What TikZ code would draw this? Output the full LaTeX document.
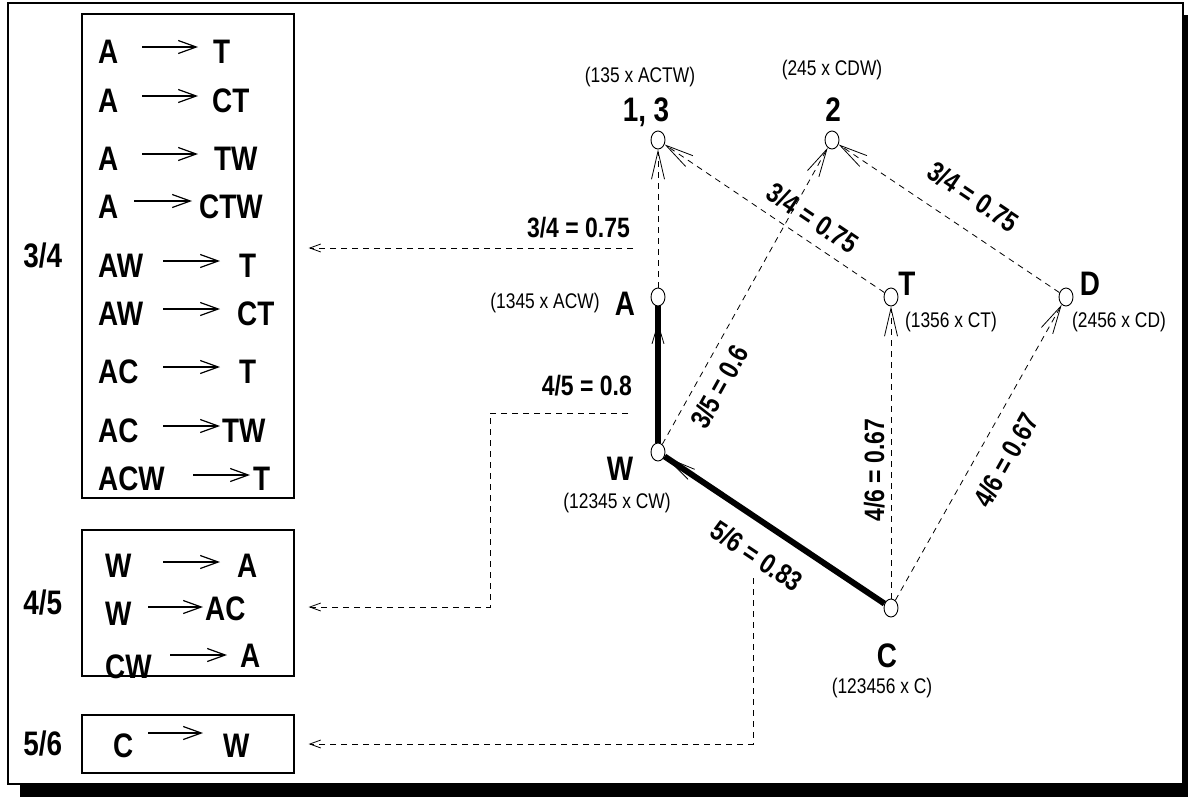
\documentclass[tikz,border=0pt]{standalone}
\usepackage{fontspec}
\setmainfont{Liberation Sans}[FakeStretch=0.82]
\usetikzlibrary{arrows.meta,positioning,calc,decorations.markings,shapes.geometric}
\tikzset{
  itemset/.style = {draw, line width=0.9pt, ellipse, inner sep=0pt,
                    minimum width=14pt, minimum height=18pt},
  rulebox/.style = {draw, line width=1.3pt, minimum width=212pt, inner sep=0pt},
  big/.style     = {font=\fontsize{34}{36}\selectfont\bfseries, inner sep=0pt},
  cnt/.style     = {font=\fontsize{21.2}{23}\selectfont, inner sep=0pt},
  conf/.style    = {font=\fontsize{28}{30}\selectfont\bfseries},
  dedge/.style   = {line width=0.8pt, dash pattern=on 6pt off 5pt,
                    -{Straight Barb[length=28pt,width=13pt]}},
  hedge/.style   = {line width=6pt},
  ptr/.style     = {line width=0.8pt, dash pattern=on 6pt off 5pt,
                    -{Straight Barb[length=11pt,width=8pt]}, shorten >=14pt},
  rarrow/.style  = {line width=1.2pt, -{Straight Barb[length=18pt,width=13pt]}},
  barbat/.style 2 args = {postaction={decorate}, decoration={markings,
                    mark=at position #1 with {\pgfsetlinewidth{0.8pt}%
                    \arrow{Straight Barb[length=#2,width=12pt]}}}},
}

\begin{document}
\begin{tikzpicture}[x=1pt, y=-1pt]
\useasboundingbox (0,0) rectangle (1188,796);
% ---- frame with shadow ----
\fill (20,15) rectangle (1200,810);
\draw[line width=2.5pt, fill=white] (8,3) rectangle (1183,784);

% ---- rule boxes ----
\foreach \n/\lx/\ly/\lhs/\ax/\bx/\ay/\rhs/\rx/\ry in {
    1/98/63/A/142/198/47/T/213/63,
    2/98/112/A/142/198/96/CT/212/112,
    3/98/170/A/142/198/154/TW/214/170,
    4/98/218/A/134/192/201/CTW/199/218,
    5/98/277/AW/163/220/261/T/239/277,
    6/98/325/AW/163/220/309/CT/237/325,
    7/98/383/AC/163/220/367/T/239/383,
    8/98/442/AC/163/220/426/TW/222/442,
    9/98/490/ACW/193/250/475/T/253/490,
    10/105/577/W/163/220/562/A/237/577,
    11/105/625/W/148/203/607/AC/205/620,
    12/105/678/CW/170/227/655/A/240/667,
    13/113/757/C/148/203/733/W/223/757}{
  \node[big, anchor=base west] (lhs\n) at (\lx,\ly) {\lhs};
  \node[big, anchor=base west] (rhs\n) at (\rx,\ry) {\rhs};
  \draw[rarrow] (\ax,\ay) -- (\bx,\ay);
}
\node[rulebox, minimum height=484pt] (box1) at (188,256) {};
\node[rulebox, minimum height=146pt] (box2) at (188,603) {};
\node[rulebox, minimum height=58pt] (box3) at (188,744) {};
\node[big, left=19pt of box1] (s34) {3/4};
\node[big, left=19pt of box2] (s45) {4/5};
\node[big, left=19pt of box3] (s56) {5/6};

% ---- itemset lattice ----
\node[itemset] (n13) at (658,140) {};
\node[itemset] (n2) at (832,140) {};
\node[itemset] (a) at (658,297) {};
\node[itemset] (t) at (891,297) {};
\node[itemset] (d) at (1066,297) {};
\node[itemset] (w) at (658,452) {};
\node[itemset] (c) at (891,608) {};

\node[big, anchor=base] (n13l) at (646,121) {1, 3};
\node[cnt, anchor=base] (n13c) at (640,82) {(135 x ACTW)};
\node[big, anchor=base] (n2l) at (833,121) {2};
\node[cnt, anchor=base] (n2c) at (832,75) {(245 x CDW)};
\node[big, anchor=base] (al) at (625,315) {A};
\node[cnt, anchor=base] (ac) at (545,308) {(1345 x ACW)};
\node[big, anchor=base] (tl) at (907,295) {T};
\node[cnt, anchor=base] (tc) at (951,327) {(1356 x CT)};
\node[big, anchor=base] (dl) at (1090,295) {D};
\node[cnt, anchor=base] (dc) at (1119,327) {(2456 x CD)};
\node[big, anchor=base] (wl) at (620,480) {W};
\node[cnt, anchor=base] (wc) at (617,508) {(12345 x CW)};
\node[big, anchor=base] (cl) at (887,667) {C};
\node[cnt, anchor=base] (cc) at (882,693) {(123456 x C)};

\draw[dedge] (a) -- (n13);
\draw[dedge] (t) -- node[conf, sloped, pos=0.38, anchor=south, inner sep=11pt] (e1) {3/4 = 0.75} (n13);
\draw[dedge] (d) -- node[conf, sloped, pos=0.47, anchor=south, inner sep=21pt] (e2) {3/4 = 0.75} (n2);
\draw[dedge] (w) -- node[conf, sloped, pos=0.23, anchor=north, inner sep=11pt] (e3) {3/5 = 0.6} (n2);
\draw[dedge] (c) -- node[conf, rotate=90, pos=0.44, anchor=south, inner sep=6pt] (e4) {4/6 = 0.67} (t);
\draw[dedge] (c) -- node[conf, sloped, pos=0.52, anchor=north, inner sep=17pt] (e5) {4/6 = 0.67} (d);
\draw[hedge, barbat={-16pt}{20pt}] (w) -- (a);
\draw[hedge, barbat={-0.1pt}{30pt}] (c) -- node[conf, sloped, pos=0.5, anchor=north, inner sep=18pt] (e6) {5/6 = 0.83} (w);

% ---- pointers to the rule boxes ----
\coordinate (c34) at (633,248);
\coordinate (c45) at (628,413);
\coordinate (k45) at (490,413);
\coordinate (c56) at (753,578);
\node[conf, inner sep=0pt, anchor=base east] (l34) at (630,237) {3/4 = 0.75};
\node[conf, inner sep=0pt, anchor=base east] (l45) at (632,395) {4/5 = 0.8};
\draw[ptr] (c34) -- (c34 -| box1.east);
\draw[ptr] (c45) -- (k45) |- ([yshift=-4pt]box2.east);
\draw[ptr] (c56) |- (box3.east);
\end{tikzpicture}
\end{document}
